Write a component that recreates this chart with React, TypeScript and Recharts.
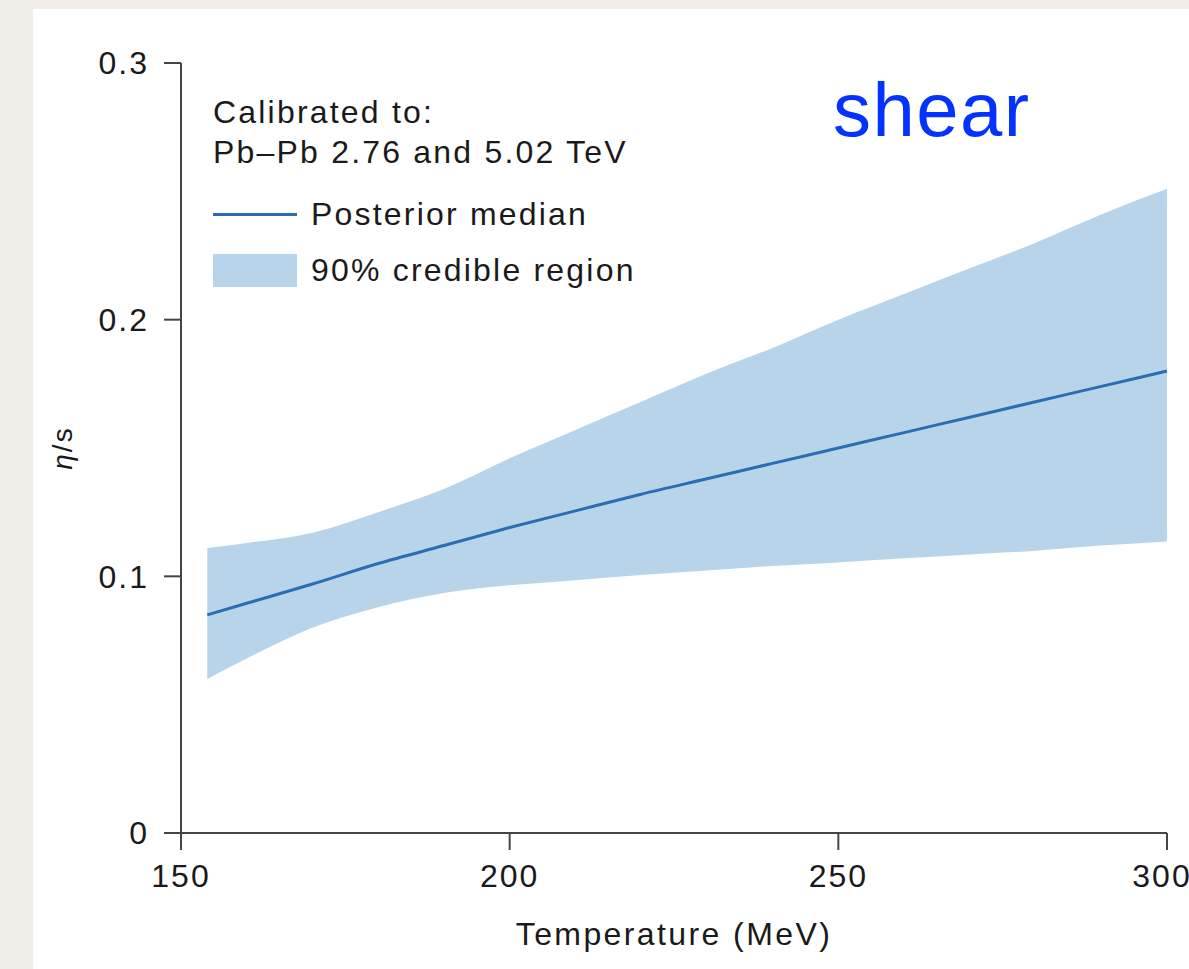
import { Area, ComposedChart, Label, Legend, Line, XAxis, YAxis } from "recharts";

// Temperature grid (MeV) and eta/s posterior summary
const temperature = [154, 160, 170, 180, 190, 200, 210, 220, 230, 240, 250, 260, 270, 280, 290, 300];
const medianEtaS = [0.085, 0.0895, 0.097, 0.105, 0.112, 0.119, 0.1255, 0.132, 0.138, 0.144, 0.15, 0.156, 0.162, 0.168, 0.174, 0.18];
const lowerEtaS = [0.06, 0.068, 0.08, 0.088, 0.0935, 0.0965, 0.0985, 0.1005, 0.1023, 0.104, 0.1054, 0.107, 0.1085, 0.11, 0.112, 0.1136];
const upperEtaS = [0.111, 0.113, 0.117, 0.125, 0.134, 0.146, 0.157, 0.168, 0.179, 0.189, 0.2, 0.21, 0.22, 0.23, 0.241, 0.251];

const xTicks = [150, 200, 250, 300];
const yTicks = [0, 0.1, 0.2, 0.3];
const legendHeader = ["Calibrated to:", "Pb\u2013Pb 2.76 and 5.02 TeV"];

const data = temperature.map((t, i) => ({
  t,
  median: medianEtaS[i],
  band: [lowerEtaS[i], upperEtaS[i]],
}));

const LINE_COLOR = "#2b6db2";
const BAND_COLOR = "#b8d4ea";
const AXIS_COLOR = "#454545";
const TEXT_COLOR = "#1a1a1a";

const tickStyle = { fill: TEXT_COLOR, fontSize: 32, letterSpacing: 2 };

function LegendBox({ payload }: { payload?: any[] }) {
  const items = payload ?? [];
  const ordered = [
    ...items.filter((p) => p.dataKey === "median"),
    ...items.filter((p) => p.dataKey === "band"),
  ];
  return (
    <div style={{ color: TEXT_COLOR, fontSize: 32, letterSpacing: 2.2 }}>
      {legendHeader.map((h) => (
        <div key={h} style={{ lineHeight: "40px", whiteSpace: "nowrap" }}>
          {h}
        </div>
      ))}
      {ordered.map((p, i) => (
        <div
          key={p.dataKey}
          style={{
            display: "flex",
            alignItems: "center",
            height: 40,
            marginTop: i === 0 ? 22 : 16,
            whiteSpace: "nowrap",
          }}
        >
          <div style={{ width: 84, marginRight: 14, display: "flex", alignItems: "center" }}>
            {p.dataKey === "median" ? (
              <div style={{ width: 84, height: 3, background: LINE_COLOR }} />
            ) : (
              <div style={{ width: 84, height: 33, background: BAND_COLOR }} />
            )}
          </div>
          <span style={{ lineHeight: "40px" }}>{p.value}</span>
        </div>
      ))}
    </div>
  );
}

function EtaSLabel({ viewBox }: any) {
  const cx = 29;
  const cy = viewBox.y + viewBox.height / 2;
  return (
    <text
      x={cx}
      y={cy}
      transform={`rotate(-90 ${cx} ${cy})`}
      textAnchor="middle"
      dominantBaseline="central"
      fontSize={28}
      letterSpacing={2}
      fill={TEXT_COLOR}
    >
      <tspan fontStyle="italic">η</tspan>/s
    </text>
  );
}

export default function App() {
  return (
    <div
      style={{
        position: "absolute",
        left: 0,
        top: 0,
        width: 1189,
        height: 969,
        overflow: "hidden",
        background: "#f1eee8",
      }}
    >
      <div
        style={{
          position: "absolute",
          left: 33,
          top: 9,
          width: 1156,
          height: 960,
          background: "#ffffff",
          fontFamily: "'Liberation Sans', Arial, Helvetica, sans-serif",
        }}
      >
        <ComposedChart
          width={1156}
          height={960}
          data={data}
          margin={{ top: 54, right: 22, bottom: 0, left: 0 }}
        >
          <XAxis
            dataKey="t"
            type="number"
            domain={[150, 300]}
            ticks={xTicks}
            height={136}
            tickSize={17}
            tickMargin={14}
            axisLine={{ stroke: AXIS_COLOR, strokeWidth: 2 }}
            tickLine={{ stroke: AXIS_COLOR, strokeWidth: 2 }}
            tick={tickStyle}
          >
            <Label
              value="Temperature (MeV)"
              position="insideBottom"
              offset={24}
              style={{ fill: TEXT_COLOR, fontSize: 32, letterSpacing: 2.4 }}
            />
          </XAxis>
          <YAxis
            type="number"
            domain={[0, 0.3]}
            ticks={yTicks}
            width={148}
            tickSize={17}
            tickMargin={15}
            axisLine={{ stroke: AXIS_COLOR, strokeWidth: 2 }}
            tickLine={{ stroke: AXIS_COLOR, strokeWidth: 2 }}
            tick={tickStyle}
            tickFormatter={(v: number) => (v === 0 ? "0" : v.toFixed(1))}
          >
            <Label content={<EtaSLabel />} />
          </YAxis>
          <Legend
            layout="horizontal"
            verticalAlign="middle"
            align="center"
            wrapperStyle={{ left: 180, top: 83, width: 520 }}
            content={(props: any) => <LegendBox payload={props.payload} />}
          />
          <Area
            dataKey="band"
            name="90% credible region"
            type="monotone"
            stroke="none"
            fill={BAND_COLOR}
            fillOpacity={1}
            isAnimationActive={false}
          />
          <Line
            dataKey="median"
            name="Posterior median"
            type="monotone"
            stroke={LINE_COLOR}
            strokeWidth={3}
            dot={false}
            isAnimationActive={false}
          />
        </ComposedChart>
        <div
          style={{
            position: "absolute",
            left: 800,
            top: 63,
            fontSize: 76,
            lineHeight: 1,
            letterSpacing: 1.5,
            color: "#0433ff",
          }}
        >
          shear
        </div>
      </div>
    </div>
  );
}
